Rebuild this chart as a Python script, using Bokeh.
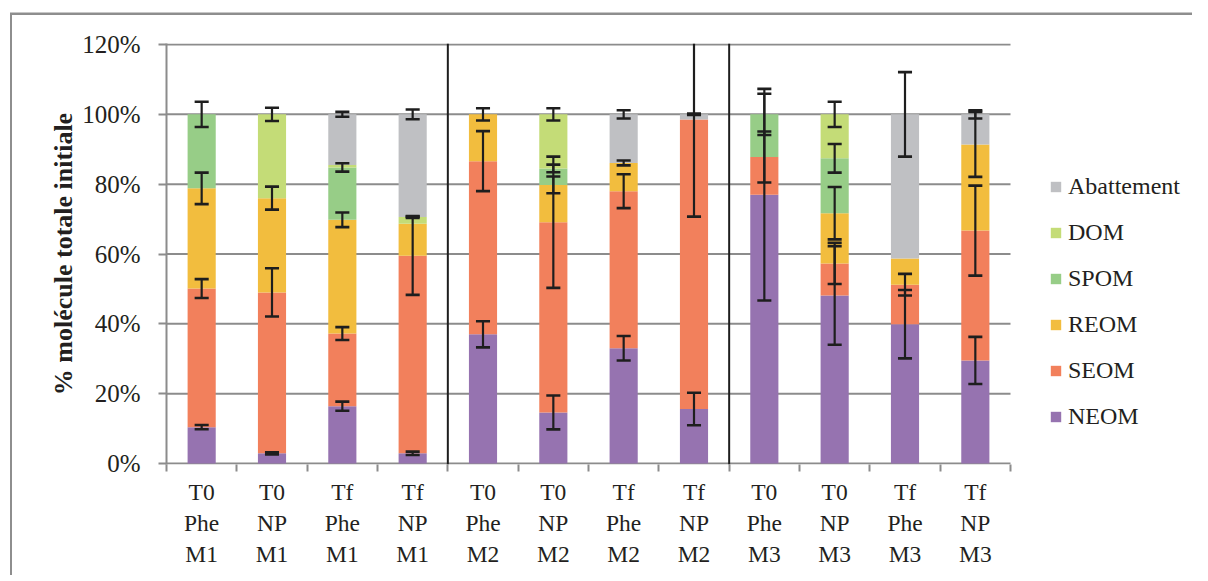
from bokeh.plotting import figure
from bokeh.models import (ColumnDataSource, Range1d, FixedTicker, PrintfTickFormatter,
                          Span, Legend, LegendItem)
from bokeh.embed import file_html
from bokeh.resources import INLINE

# ---------------- data ----------------
categories = ["T0\nPhe\nM1", "T0\nNP\nM1", "Tf\nPhe\nM1", "Tf\nNP\nM1",
              "T0\nPhe\nM2", "T0\nNP\nM2", "Tf\nPhe\nM2", "Tf\nNP\nM2",
              "T0\nPhe\nM3", "T0\nNP\nM3", "Tf\nPhe\nM3", "Tf\nNP\nM3"]
series = ["NEOM", "SEOM", "REOM", "SPOM", "DOM", "Abattement"]

NEOM = [10.4, 2.9, 16.4, 2.9, 37.0, 14.6, 33.0, 15.6, 77.0, 48.1, 39.9, 29.5]
SEOM = [39.7, 46.1, 20.8, 56.6, 49.6, 54.5, 45.0, 82.9, 10.8, 9.2, 11.3, 37.2]
REOM = [28.7, 27.0, 32.6, 9.2, 13.4, 10.7, 8.1, 0.0, 0.0, 14.4, 7.5, 24.7]
SPOM = [21.2, 0.0, 15.0, 0.0, 0.0, 4.7, 0.0, 0.0, 12.2, 15.7, 0.0, 0.0]
DOM = [0.0, 24.0, 0.7, 1.9, 0.0, 15.5, 0.0, 0.0, 0.0, 12.6, 0.0, 0.0]
ABATTEMENT = [0.0, 0.0, 14.5, 29.4, 0.0, 0.0, 13.9, 1.5, 0.0, 0.0, 41.3, 8.6]

NEOM_err = [0.6, 0.3, 1.3, 0.5, 3.75, 4.85, 3.5, 4.65, 30.3, 14.1, 9.8, 6.75]
SEOM_err = [2.7, 6.9, 1.85, 11.2, 8.6, 18.8, 4.85, 27.8, 7.3, 5.9, 3.1, 12.9]
REOM_err = [4.5, 3.3, 2.1, 0.0, 1.75, 2.4, 0.7, 0.0, 0.0, 7.5, 0.0, 9.3]
SPOM_err = [3.6, 0.0, 1.2, 0.0, 0.0, 1.1, 0.0, 0.0, 5.9, 4.1, 0.0, 0.0]
DOM_err = [0.0, 1.9, 0.0, 0.3, 0.0, 1.75, 0.0, 0.0, 0.0, 3.6, 0.0, 0.0]
ABAT_err = [0.0, 0.0, 0.7, 1.4, 0.0, 0.0, 1.2, 0.2, 0.0, 0.0, 12.1, 1.2]

y_ticks = [0, 20, 40, 60, 80, 100, 120]
group_separators = [4.5, 8.5]

colors = ["#9673B0", "#F2805C", "#F2BD3E", "#97CD87", "#C4DC77", "#BFC0C3"]

# ---------------- layout ----------------
FONT = "Liberation Serif"
TXT = "#231F20"
GRID = "#8C8C8C"

W, H = 1192, 575
B_LEFT, B_TOP, B_BOTTOM, B_RIGHT = 166, 43, 111, 0
PLOT_PX = 844.0            # width taken by the 12 categories
frame_w = W - B_LEFT - B_RIGHT
n = len(categories)
x_start = 0.5
x_end = x_start + n * frame_w / PLOT_PX   # extra room on the right holds the legend

xs = list(range(1, n + 1))
data = dict(x=xs, NEOM=NEOM, SEOM=SEOM, REOM=REOM, SPOM=SPOM, DOM=DOM, Abattement=ABATTEMENT)
source = ColumnDataSource(data)

p = figure(width=W, height=H, x_range=Range1d(x_start, x_end),
           y_range=Range1d(-0.3, 120.3), output_backend="svg", toolbar_location=None,
           min_border_left=B_LEFT, min_border_right=B_RIGHT, min_border_top=B_TOP,
           min_border_bottom=B_BOTTOM)
# outer chart border (only its left and top edges fall inside the window)
p.styles = {"box-shadow": "inset 10px 12.5px 0 0 #ffffff, inset 12px 15px 0 0 #8E8E8E"}
p.outline_line_color = None
p.background_fill_color = "white"
p.border_fill_color = None

# horizontal grid lines limited to the category area
p.xgrid.visible = False
p.ygrid.visible = False
p.segment(x0=[x_start] * len(y_ticks), x1=[n + 0.5] * len(y_ticks), y0=y_ticks, y1=y_ticks,
          line_color=GRID, line_width=2)

# bars
renderers = p.vbar_stack(series, x="x", width=0.4, source=source, color=colors,
                         line_color=None)

# error bars (stems + caps), centred on each segment's top
stacks = [NEOM, SEOM, REOM, SPOM, DOM, ABATTEMENT]
errs = [NEOM_err, SEOM_err, REOM_err, SPOM_err, DOM_err, ABAT_err]
sx0, sy0, sx1, sy1 = [], [], [], []
cx0, cy, cx1 = [], [], []
cap = 0.1
for i, x in enumerate(xs):
    top = 0.0
    for vals, ev in zip(stacks, errs):
        top += vals[i]
        e = ev[i]
        if e > 0:
            sx0.append(x); sx1.append(x); sy0.append(top - e); sy1.append(min(top + e, 120.3))
            for yy in (top - e, top + e):
                cx0.append(x - cap); cx1.append(x + cap); cy.append(yy)
p.segment(x0=sx0, y0=sy0, x1=sx1, y1=sy1, line_color="#1E1E1E", line_width=2.2)
p.segment(x0=cx0, y0=cy, x1=cx1, y1=cy, line_color="#1E1E1E", line_width=2.6)

# group separators
for loc in group_separators:
    p.add_layout(Span(location=loc, dimension="height", line_color="#1E1E1E",
                      line_width=2))

# axes
xa = p.xaxis[0]
xa.ticker = FixedTicker(ticks=xs, minor_ticks=[x - 0.5 for x in xs] + [xs[-1] + 0.5])
xa.major_label_overrides = {x: lab for x, lab in zip(xs, categories)}
xa.major_tick_line_color = None
xa.major_tick_out = 0
xa.major_tick_in = 0
xa.minor_tick_line_color = GRID
xa.minor_tick_line_width = 2
xa.minor_tick_out = 7
xa.minor_tick_in = 0
xa.axis_line_color = None
xa.major_label_text_font = FONT
xa.major_label_text_font_size = "23.5px"
xa.major_label_text_color = TXT
xa.major_label_standoff = 7

ya = p.yaxis[0]
ya.ticker = FixedTicker(ticks=y_ticks, minor_ticks=[])
ya.formatter = PrintfTickFormatter(format="%d%%")
ya.major_tick_line_color = GRID
ya.major_tick_line_width = 2
ya.major_tick_out = 8
ya.major_tick_in = 0
ya.minor_tick_line_color = None
ya.axis_line_color = GRID
ya.axis_line_width = 2
ya.major_label_text_font = FONT
ya.major_label_text_font_size = "25px"
ya.major_label_text_color = TXT
ya.major_label_standoff = 18
ya.axis_label = "% molécule totale initiale"
ya.axis_label_text_font = FONT
ya.axis_label_text_font_size = "26px"
ya.axis_label_text_font_style = "bold"
ya.axis_label_text_color = TXT
ya.axis_label_standoff = 1

# legend (top item = Abattement), placed in the area right of the categories
items = [LegendItem(label=name, renderers=[r]) for name, r in zip(series, renderers)][::-1]
legend = Legend(items=items, location=(883, 34), orientation="vertical")
legend.label_text_font = FONT
legend.label_text_font_size = "24px"
legend.label_text_color = TXT
legend.glyph_width = 13
legend.glyph_height = 13
legend.label_height = 26
legend.spacing = 19
legend.label_standoff = 6
legend.padding = 0
legend.margin = 0
legend.border_line_color = None
legend.background_fill_alpha = 0
p.add_layout(legend)

open("out.html", "w").write(file_html(p, INLINE))
